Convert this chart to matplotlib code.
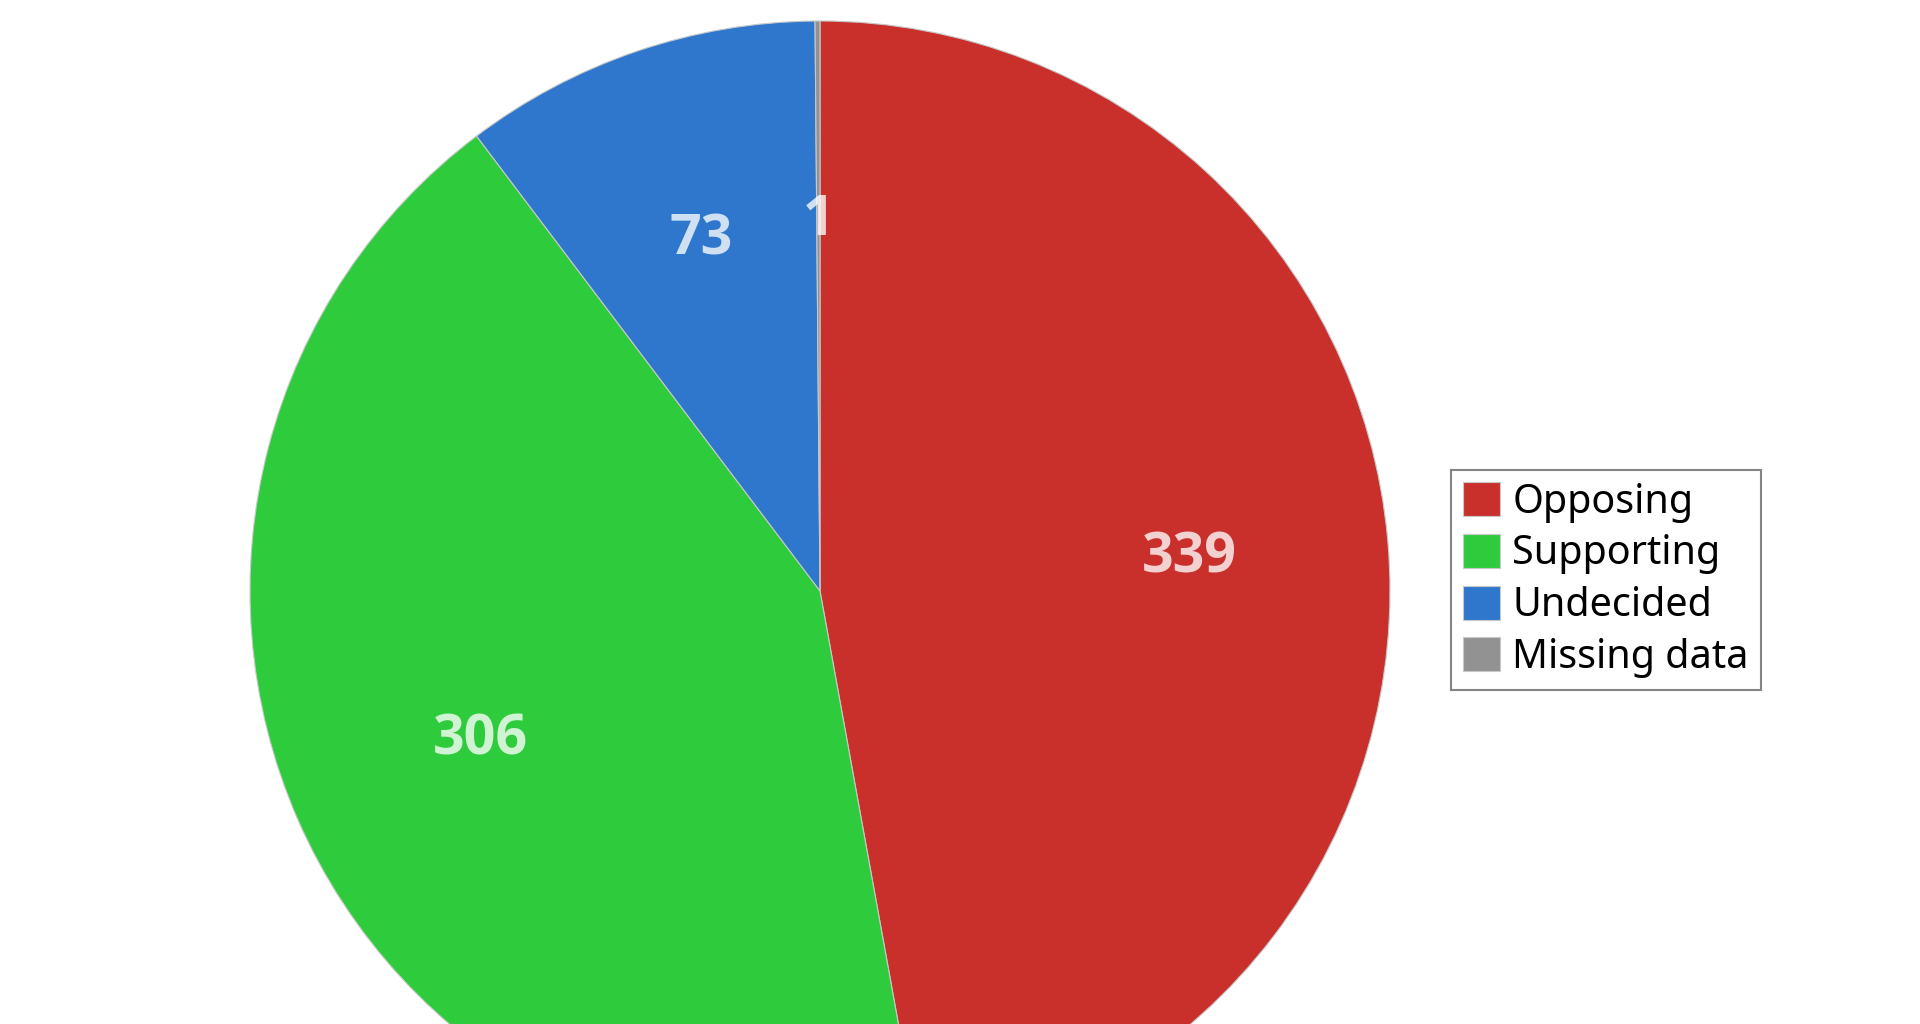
import matplotlib
matplotlib.use("Agg")
import matplotlib.pyplot as plt

categories = ["Opposing", "Supporting", "Undecided", "Missing data"]
values = [339, 306, 73, 1]
colors = ["#C9302C", "#2ECC3D", "#2E77CC", "#929292"]

plt.rcParams['font.family'] = ['Noto Sans', 'DejaVu Sans']

W, H = 1920, 1024
fig = plt.figure(figsize=(W / 100, H / 100), dpi=100)
ax = fig.add_axes([0, 0, 1, 1])

wedges, texts = ax.pie(
    values,
    labels=[str(v) for v in values],
    colors=colors,
    startangle=90,
    counterclock=False,
    center=(820, H - 591),
    radius=570,
    labeldistance=0.65,
    wedgeprops=dict(edgecolor="#c8c8c8", linewidth=0.8),
)
for t in texts:
    t.set_fontfamily(['Open Sans', 'DejaVu Sans'])
    t.set_fontweight("bold")
    t.set_fontsize(40)
    t.set_color("white")
    t.set_alpha(0.78)
    t.set_ha("center")
    t.set_va("center")

ax.set_xlim(0, W)
ax.set_ylim(0, H)
ax.set_aspect("equal")
ax.axis("off")

leg = fig.legend(
    wedges, categories,
    loc="center left",
    bbox_to_anchor=(1451 / W, 1 - 580 / H),
    fontsize=28.5,
    frameon=True,
    fancybox=False,
    handlelength=0.95,
    handleheight=0.95,
    handletextpad=0.3,
    labelspacing=0.28,
    borderpad=0.3,
    borderaxespad=0,
)
leg.get_frame().set_edgecolor("#666666")
leg.get_frame().set_linewidth(1.5)

fig.savefig("out.png", dpi=100)
